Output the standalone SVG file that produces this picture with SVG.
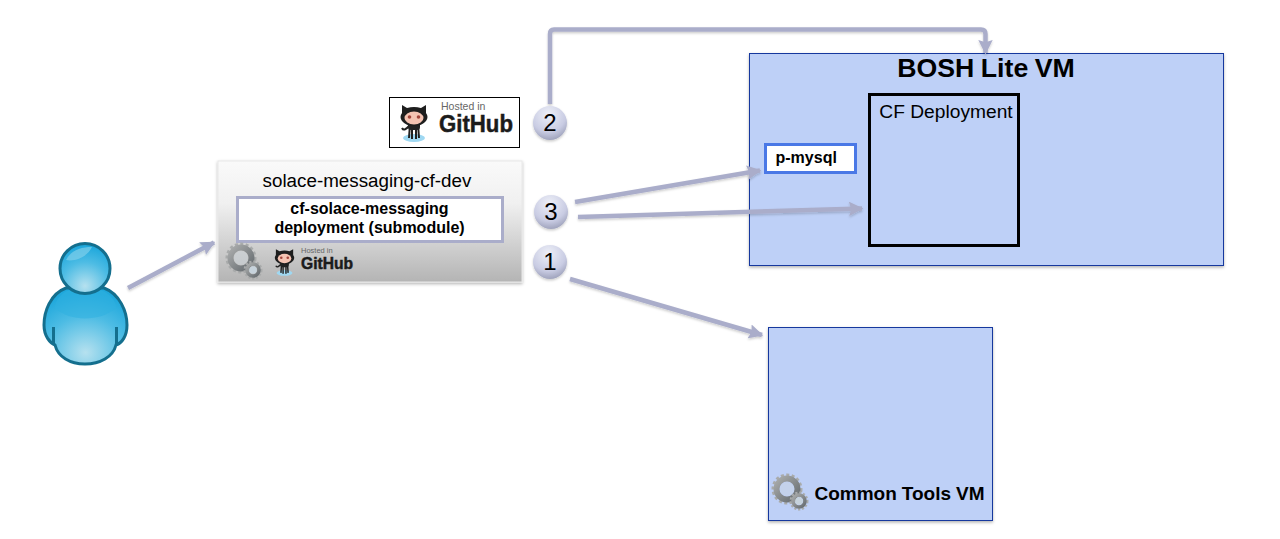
<svg xmlns="http://www.w3.org/2000/svg" width="1280" height="539" viewBox="0 0 1280 539">
<style>
text{font-family:"Liberation Sans",Arial,sans-serif;fill:#000}
.vm{fill:#bed0f7;stroke:#12399e;stroke-width:1;filter:url(#sh)}
.c{fill:none;stroke:#aaadca;stroke-width:4.500;stroke-linejoin:round;marker-end:url(#ah)}
.num{font-size:24px;text-anchor:middle}
.lab{font-size:16px;font-weight:bold;text-anchor:middle}
.hub{font-weight:bold;fill:#1b1b1b;stroke:#1b1b1b;stroke-width:.5}
.host{fill:#666}
</style>
<defs>
<filter id="sh" x="-5%" y="-5%" width="110%" height="110%"><feDropShadow dx="0" dy="1.500" stdDeviation="1.500" flood-color="#000" flood-opacity=".3"/></filter>
<filter id="ls" x="-10%" y="-10%" width="120%" height="120%"><feDropShadow dx="0" dy="1.500" stdDeviation="1" flood-color="#000" flood-opacity=".2"/></filter>
<marker id="ah" viewBox="0 0 10 10" refX="9" refY="5" markerWidth="3.200" markerHeight="3.200" orient="auto" markerUnits="strokeWidth"><path d="M0 0L10 5L0 10L1.500 5Z" fill="#aaadca"/></marker>
<linearGradient id="repo" x1="0" y1="0" x2="0" y2="1"><stop offset="0" stop-color="#fafafa"/><stop offset=".35" stop-color="#f0f0f0"/><stop offset="1" stop-color="#b4b4b4"/></linearGradient>
<radialGradient id="ball" cx=".45" cy=".25" r=".85"><stop offset="0" stop-color="#eef0f8"/><stop offset=".6" stop-color="#c9cce3"/><stop offset="1" stop-color="#8f93ad"/></radialGradient>
<radialGradient id="skin" cx=".5" cy=".85" r=".8"><stop offset="0" stop-color="#b6e1ef"/><stop offset=".6" stop-color="#4dbce4"/><stop offset="1" stop-color="#1fa8dc"/></radialGradient>
<linearGradient id="cog" x1="0" y1="0" x2="1" y2="1"><stop offset="0" stop-color="#a9abab"/><stop offset="1" stop-color="#666c70"/></linearGradient>
<g id="gear">
<circle cx="15" cy="15" r="14" fill="none" stroke="#a9abab" stroke-width="3" stroke-dasharray="3 2.400"/>
<circle cx="15" cy="15" r="10.500" fill="none" stroke="url(#cog)" stroke-width="6"/>
<circle cx="15" cy="15" r="7" fill="#cdd4dc" fill-opacity=".45"/>
<circle cx="27" cy="27" r="8.500" fill="none" stroke="#a9abab" stroke-width="2" stroke-dasharray="2.200 1.800"/>
<circle cx="27" cy="27" r="6" fill="none" stroke="url(#cog)" stroke-width="3.600"/>
<circle cx="27" cy="27" r="3.800" fill="#c7d3dc"/>
</g>
<g id="cat">
<ellipse cx="16" cy="36" rx="11" ry="4" fill="#9fd8f2"/>
<path d="M12 22L11 36M14 22L14 37M18 22L18 37M20 22L21 36M11 24Q6 30 4 26" stroke="#222" stroke-width="2" fill="none"/>
<rect x="10" y="19" width="12" height="9" rx="3" fill="#222"/>
<path d="M4 3L9 6Q16 4 23 6L28 3L28 11Q31 15 28 19Q24 24 16 24Q8 24 4 19Q1 15 4 11Z" fill="#1e1e1e"/>
<ellipse cx="16" cy="16" rx="9.500" ry="6.500" fill="#f4c3b2"/>
<circle cx="11.500" cy="15" r="1.800" fill="#a2453b"/><circle cx="20.500" cy="15" r="1.800" fill="#a2453b"/>
</g>
</defs>
<rect width="1280" height="539" fill="#fff"/>

<g id="bosh-vm">
<rect class="vm" x="749.500" y="53.500" width="474" height="212"/>
<text x="986" y="77" font-size="26.700" font-weight="bold" text-anchor="middle" word-spacing="-1">BOSH Lite VM</text>
</g>
<g id="cf-deployment">
<rect x="869.500" y="94.500" width="149" height="151" fill="none" stroke="#000" stroke-width="3"/>
<text x="946" y="118" font-size="19.200" text-anchor="middle">CF Deployment</text>
</g>
<g id="p-mysql">
<rect x="765.500" y="144.500" width="90" height="28" fill="#fff" stroke="#4a78e6" stroke-width="3"/>
<text x="775.500" y="163" font-size="16" font-weight="bold">p-mysql</text>
</g>
<g id="common-tools-vm">
<rect class="vm" x="768.500" y="327.500" width="224" height="193"/>
<use href="#gear" x="772" y="474"/>
<text x="814.500" y="500" font-size="19" font-weight="bold" word-spacing="-.3">Common Tools VM</text>
</g>

<g id="connectors" filter="url(#ls)">
<path class="c" d="M128 288L214 242.500"/>
<path class="c" d="M550 104V34Q550 29.500 554 29.500H981Q985.500 29.500 985.500 34V53"/>
<path class="c" d="M575 202L760 170.500"/>
<path class="c" d="M578 217L862 208.500"/>
<path class="c" d="M570 279L762 335"/>
</g>

<g id="user">
<path d="M66 288C50 294 44 312 44 325C44 336 50 343 55 345C58 357 70 364 85 364C100 364 113 357 116 345C122 343 127 336 127 325C127 312 120 294 104 288Z" fill="url(#skin)" stroke="#146f8e" stroke-width="3"/>
<path d="M55 308C70 322 100 322 116 308C116 300 108 292 100 290L70 290C62 292 55 300 55 308Z" fill="#2fb0e0" opacity=".55"/>
<path d="M53.500 327V345M116.500 327V345" stroke="#146f8e" stroke-width="3" fill="none"/>
<circle cx="85" cy="268.500" r="25" fill="url(#skin)" stroke="#146f8e" stroke-width="3"/>
<path d="M66 260C71 250 81 247 92 247C88 256 76 262 66 260Z" fill="#7fcfe9" opacity=".7"/>
</g>

<g id="github-badge">
<rect x="389.500" y="97.500" width="130" height="50" fill="#fff" stroke="#000" stroke-width="1"/>
<use href="#cat" x="398" y="102"/>
<text class="host" x="441" y="110" font-size="10.500">Hosted in</text>
<text class="hub" x="439" y="132" font-size="24.500" textLength="74" lengthAdjust="spacingAndGlyphs">GitHub</text>
</g>

<g id="solace-messaging-cf-dev">
<rect x="218" y="161" width="304" height="121" fill="url(#repo)" stroke="#e8e8e8" stroke-width="1" filter="url(#sh)"/>
<text x="367" y="186.500" font-size="18.800" text-anchor="middle">solace-messaging-cf-dev</text>
<rect x="237.500" y="197.500" width="265" height="44" fill="#fff" stroke="#aaadca" stroke-width="3"/>
<text class="lab" x="369.500" y="214">cf-solace-messaging</text>
<text class="lab" x="369.500" y="232.500">deployment (submodule)</text>
<use href="#gear" x="226" y="243"/>
<g transform="translate(273 247) scale(.72)"><use href="#cat"/></g>
<text class="host" x="301" y="253" font-size="7.500">Hosted in</text>
<text class="hub" x="301" y="269" font-size="17" textLength="52" lengthAdjust="spacingAndGlyphs">GitHub</text>
</g>

<g id="step-2"><circle cx="550" cy="123" r="17" fill="url(#ball)" filter="url(#ls)"/><text class="num" x="550" y="131">2</text></g>
<g id="step-3"><circle cx="551" cy="212" r="17" fill="url(#ball)" filter="url(#ls)"/><text class="num" x="551" y="220">3</text></g>
<g id="step-1"><circle cx="550" cy="262" r="17" fill="url(#ball)" filter="url(#ls)"/><text class="num" x="550" y="270">1</text></g>
</svg>
